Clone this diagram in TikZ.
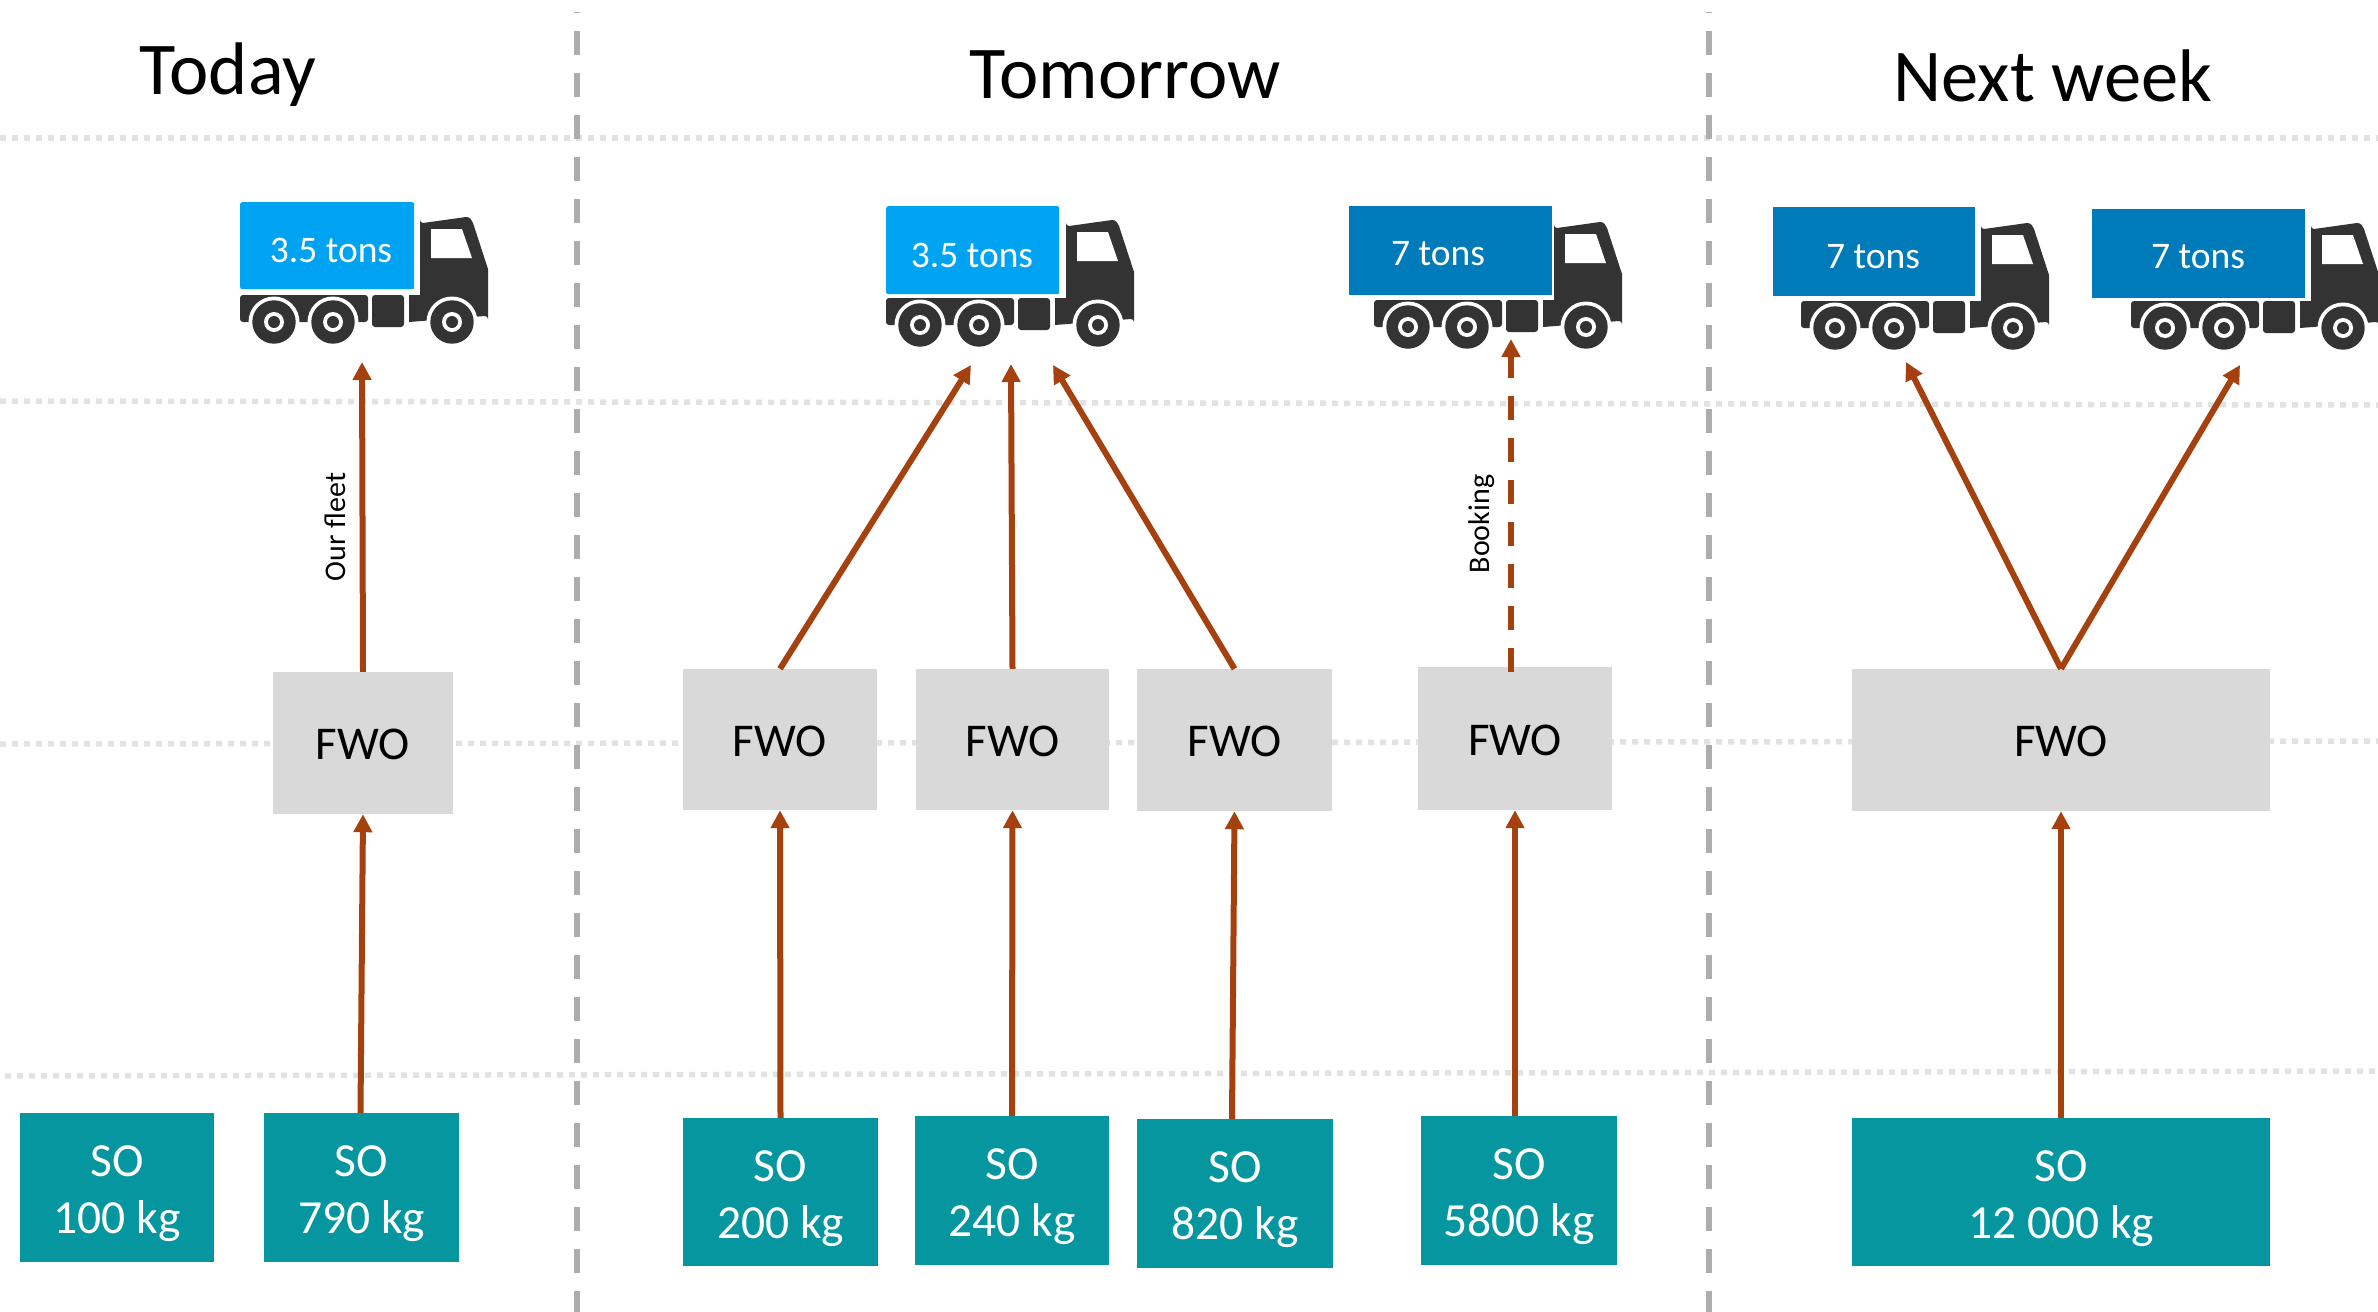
\documentclass[tikz,border=0pt]{standalone}
\usepackage{fontspec}
\setmainfont{Carlito}
\usetikzlibrary{arrows.meta}
\definecolor{teal}{HTML}{0596A0}
\definecolor{fwogrey}{HTML}{D9D9D9}
\definecolor{lightblue}{HTML}{00A3F2}
\definecolor{darkblue}{HTML}{007BBA}
\definecolor{truckdark}{HTML}{333333}
\definecolor{arrowc}{HTML}{A5410E}
\definecolor{vgrey}{HTML}{ADADAD}
\definecolor{hgrey}{HTML}{E2E2E2}
\newcommand{\sotext}[1]{\rule{0pt}{44pt}SO\\#1}
\tikzset{
  title/.style={font=\fontsize{74.5}{88}\selectfont,text=black,inner sep=0pt},
  fwo/.style={fill=fwogrey,inner sep=0pt,font=\fontsize{47}{56}\selectfont,text=black,text height=34pt},
  so/.style={fill=teal,inner sep=0pt,align=center,font=\fontsize{47.5}{57}\selectfont,text=white},
  cargo/.style={inner sep=0pt,anchor=north west},
  tonstext/.style={font=\fontsize{37.5}{44}\selectfont,text=white,inner sep=0pt},
  sidelabel/.style={font=\fontsize{30}{34}\selectfont,text=black,rotate=90,inner sep=0pt},
  flow/.style={draw=arrowc,line width=6pt,-{Triangle[length=18pt,width=18pt]}},
  flowdash/.style={draw=arrowc,line width=6pt,dash pattern=on 24pt off 18pt,-{Triangle[length=18pt,width=18pt]}},
  hdot/.style={draw=hgrey,line width=5.5pt,dash pattern=on 6pt off 6pt},
  vdash/.style={draw=vgrey,line width=6pt,dash pattern=on 24pt off 18pt,dash phase=23pt},
  truck/.pic={
    \fill[truckdark,rounded corners=3pt] (0,-27) -- (128,-27) -- (128,0) -- (0,0) -- cycle;
    \fill[truckdark,rounded corners=3pt] (132,-27) -- (164,-27) -- (164,5) -- (132,5) -- cycle;
    \fill[truckdark] (169,-2) -- (169,-27) -- (180,-27) -- (180,-102)
      arc[start angle=180,end angle=90,radius=3] -- (226,-105)
      .. controls (230,-105) and (232,-102) .. (233,-99) -- (248,-53) -- (248,-3)
      arc[start angle=0,end angle=-90,radius=3] -- (169,0) -- cycle;
    \fill[white] (191,-93) -- (222,-93) -- (232,-64) -- (191,-64) -- cycle;
    \foreach \wx in {34,93,212}{
      \fill[white] (\wx,0) circle[radius=25.5];
      \fill[truckdark] (\wx,0) circle[radius=21.7];
      \fill[white] (\wx,0) circle[radius=10];
      \fill[truckdark] (\wx,0) circle[radius=6];
    }
  }
}
\begin{document}
\begin{tikzpicture}[x=1pt,y=-1pt]
\useasboundingbox (0,0) rectangle (2378,1312);
\fill[white] (0,0) rectangle (2378,1312);
% dotted horizontals
\draw[hdot] (0,138) -- (2378,138);
\draw[hdot] (0,401) -- (2378,405);
\draw[hdot] (0,744) -- (2378,741);
\draw[hdot] (5,1076) -- (2378,1071);
% dashed verticals
\draw[vdash] (577,12) -- (577,1312);
\draw[vdash] (1709,12) -- (1709,1312);
% titles
\node[title] (tToday) at (228,75) {Today};
\node[title] (tTomorrow) at (1125,75) {Tomorrow};
\node[title] (tNext) at (2053,75.5) {Next week};
% trucks
\pic (tr1) at (240,322) {truck};
\pic (tr2) at (886,325) {truck};
\pic (tr3) at (1374,327) {truck};
\pic (tr4) at (1801,328) {truck};
\pic (tr5) at (2131,328) {truck};
% cargo boxes
\node[cargo,fill=lightblue,minimum width=174pt,minimum height=87pt,rounded corners=2pt] (c1) at (240,202) {};
\node[cargo,fill=lightblue,minimum width=173pt,minimum height=88pt,rounded corners=2pt] (c2) at (886,206) {};
\node[cargo,fill=darkblue,minimum width=203pt,minimum height=89pt] (c3) at (1349,206) {};
\node[cargo,fill=darkblue,minimum width=202pt,minimum height=89pt] (c4) at (1773,207) {};
\node[cargo,fill=darkblue,minimum width=213pt,minimum height=89pt] (c5) at (2092,209) {};
\node[tonstext] (l1) at (331,250.5) {3.5 tons};
\node[tonstext] (l2) at (972,255.5) {3.5 tons};
\node[tonstext] (l3) at (1438,254) {7 tons};
\node[tonstext] (l4) at (1873,256.5) {7 tons};
\node[tonstext] (l5) at (2198,256.5) {7 tons};
% FWO
\node[fwo,minimum width=180pt,minimum height=142pt] (F1) at (363,743) {FWO};
\node[fwo,minimum width=194pt,minimum height=141pt] (F2) at (780,739.5) {FWO};
\node[fwo,minimum width=193pt,minimum height=141pt] (F3) at (1012.5,739.5) {FWO};
\node[fwo,minimum width=195pt,minimum height=142pt] (F4) at (1234.5,740) {FWO};
\node[fwo,minimum width=194pt,minimum height=143pt] (F5) at (1515,738.5) {FWO};
\node[fwo,minimum width=418pt,minimum height=142pt] (F6) at (2061,740) {FWO};
% SO
\node[so,minimum width=194pt,minimum height=149pt] (S1) at (117,1187.5) {\sotext{100 kg}};
\node[so,minimum width=195pt,minimum height=149pt] (S2) at (361.5,1187.5) {\sotext{790 kg}};
\node[so,minimum width=195pt,minimum height=148pt] (S3) at (780.5,1192) {\sotext{200 kg}};
\node[so,minimum width=194pt,minimum height=149pt] (S4) at (1012,1190.5) {\sotext{240 kg}};
\node[so,minimum width=196pt,minimum height=149pt] (S5) at (1235,1193.5) {\sotext{820 kg}};
\node[so,minimum width=196pt,minimum height=149pt] (S6) at (1519,1190.5) {\sotext{5800 kg}};
\node[so,minimum width=418pt,minimum height=148pt] (S7) at (2061,1192) {\sotext{12 000 kg}};
% arrow targets
\coordinate (a1) at (362,362);
\coordinate (a2) at (971,365);
\coordinate (a3) at (1011,364);
\coordinate (a4) at (1053,365);
\coordinate (a5) at (1511,339);
\coordinate (a6) at (1906,362);
\coordinate (a7) at (2240,365);
\coordinate (f5top) at (1511,672);
% arrows SO -> FWO
\draw[flow] ([xshift=-1pt]S2.north) -- (F1.south);
\draw[flow] (S3.north) -- (F2.south);
\draw[flow] (S4.north) -- (F3.south);
\draw[flow] ([xshift=-3pt]S5.north) -- (F4.south);
\draw[flow] (S6.north -| F5.south) -- (F5.south);
\draw[flow] (S7.north) -- (F6.south);
% arrows FWO -> truck
\draw[flow] (F1.north) -- (a1);
\draw[flow] (F2.north) -- (a2);
\draw[flow] (F3.north) -- (a3);
\draw[flow] (F4.north) -- (a4);
\draw[flowdash] (f5top) -- (a5);
\draw[flow] (F6.north) -- (a6);
\draw[flow] (F6.north) -- (a7);
% side labels
\node[sidelabel] (our) at (335,527) {Our fleet};
\node[sidelabel] (book) at (1482,524) {Booking};
\end{tikzpicture}
\end{document}
